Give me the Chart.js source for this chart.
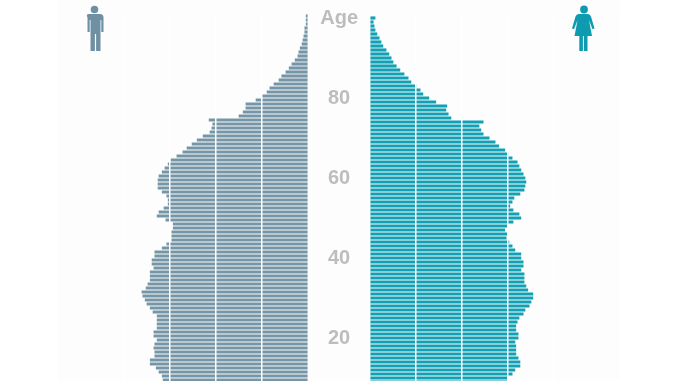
<!DOCTYPE html>
<html>
<head>
<meta charset="utf-8">
<script src="https://cdn.jsdelivr.net/npm/chart.js@4"></script>
<style>
    html, body { margin: 0; padding: 0; background: #fff; overflow: hidden; }
    #page { position: relative; width: 678px; height: 381px; overflow: hidden; }
    #panel { position: absolute; left: 57px; top: 0; width: 563px; height: 381px; background: #fdfdfd; }
    #maleBox { position: absolute; left: 57px; top: 0; }
    #femaleBox { position: absolute; left: 308px; top: 0; }
    svg { position: absolute; top: 0; left: 0; }
</style>
</head>
<body>
<div id="page">
    <div id="panel"></div>
    <div id="maleBox"><canvas id="maleChart" width="251" height="382"></canvas></div>
    <div id="femaleBox"><canvas id="femaleChart" width="312" height="400"></canvas></div>
    <svg width="678" height="381">
        <!-- man -->
        <g fill="#6f90a3">
            <circle cx="94.5" cy="9.5" r="3.8"/>
            <path d="M89 14h11q3.5 0 3.5 3.5V32h-2.2V20h-.8v31h-4.4V34h-1.2v17h-4.4V20h-.8v12h-2.2V17.500Q85.500 14 89 14z"/>
        </g>
        <!-- woman -->
        <g fill="#0e9bb0">
            <circle cx="584" cy="9.500" r="3.9"/>
            <path d="M580 14h8q2 0 3 2.500l3.500 12-2 .8-3.500-9 3 15.700h-4.500V51h-3.600V36h-1V51h-3.600V36H574.500l3-15.700-3.500 9-2-.8 3.500-12q1-2.500 3-2.500z"/>
        </g>
    </svg>
</div>
<script>
// ages from the top row of the pyramid down, one bar per year
let ages = [100,99,98,97,96,95,94,93,92,91,90,89,88,87,86,85,84,83,82,81,
    80,79,78,77,76,75,74,73,72,71,70,69,68,67,66,65,64,63,62,61,
    60,59,58,57,56,55,54,53,52,51,50,49,48,47,46,45,44,43,42,41,
    40,39,38,37,36,35,34,33,32,31,30,29,28,27,26,25,24,23,22,21,
    20,19,18,17,16,15,14,13,12,11,10,9]

let ageLabels = { 100: 'Age', 80: '80', 60: '60', 40: '40', 20: '20' }

// one grid interval = 1
let maleValues = [.04,.04,.04,.07,.07,.09,.11,.13,.17,.20,.22,.28,.35,.41,.48,.57,.63,.74,.83,.89,
    1.00,1.13,1.35,1.35,1.41,1.50,2.15,2.07,2.09,2.13,2.28,2.41,2.52,2.63,2.72,2.85,2.98,3.04,3.11,3.17,
    3.24,3.26,3.26,3.26,3.17,3.07,3.04,3.04,3.13,3.24,3.28,3.09,2.93,2.93,2.96,2.96,2.96,3.07,3.17,3.33,
    3.33,3.39,3.39,3.35,3.43,3.43,3.43,3.48,3.52,3.61,3.59,3.54,3.50,3.43,3.37,3.28,3.28,3.28,3.28,3.35,
    3.35,3.28,3.33,3.35,3.33,3.33,3.43,3.43,3.30,3.24,3.17,3.15]

let femaleValues = [.11,.07,.09,.11,.15,.20,.24,.28,.35,.41,.46,.50,.57,.65,.74,.83,.89,1.00,1.09,1.15,
    1.28,1.43,1.67,1.65,1.70,1.76,2.46,2.37,2.41,2.46,2.59,2.72,2.80,2.93,3.00,3.09,3.20,3.24,3.28,3.33,
    3.37,3.39,3.37,3.35,3.26,3.13,3.09,3.04,3.11,3.24,3.28,3.11,2.98,2.93,2.98,2.96,3.02,3.09,3.15,3.28,
    3.28,3.33,3.33,3.28,3.35,3.35,3.35,3.39,3.43,3.54,3.54,3.50,3.46,3.37,3.33,3.24,3.20,3.17,3.17,3.22,
    3.22,3.15,3.17,3.17,3.17,3.22,3.26,3.26,3.15,3.09,2.98,2.98]

let maleColor = '#7696a8'
let femaleColor = '#12a0b5'
let labelColor = '#bdbdbd'

function xAxis(max, reverse) {
    return {
        min: 0,
        max: max,
        reverse: reverse,
        ticks: { display: false, stepSize: 1 },
        border: { display: false },
        grid: {
            z: 1,
            lineWidth: 1.5,
            drawTicks: false,
            color: (c) => c.tick.value === 0 ? 'rgba(255,255,255,0)' : '#ffffff'
        }
    }
}

function pyramidSide(id, values, color, xScale, yScale, padding) {
    return new Chart(document.getElementById(id), {
        type: 'bar',
        data: {
            labels: ages,
            datasets: [{ data: values, backgroundColor: color, barThickness: 2.5 }]
        },
        options: {
            indexAxis: 'y',
            responsive: false,
            animation: false,
            layout: { padding: padding },
            plugins: { legend: { display: false }, tooltip: { enabled: false } },
            scales: { x: xScale, y: yScale }
        }
    })
}

pyramidSide('maleChart', maleValues, maleColor, xAxis(251 / 46, true),
    { display: false }, { top: 14, bottom: 0 })

pyramidSide('femaleChart', femaleValues, femaleColor, xAxis(250 / 46, false), {
    grid: { display: false },
    border: { display: false },
    afterFit: (scale) => { scale.width = 62 },
    ticks: {
        autoSkip: false,
        padding: 4,
        crossAlign: 'center',
        color: labelColor,
        font: { family: '"Liberation Sans", Arial, sans-serif', size: 20, weight: 'bold' },
        callback: function (value) { return ageLabels[this.getLabelForValue(value)] }
    }
}, { top: 3, bottom: 0 })
</script>
</body>
</html>
